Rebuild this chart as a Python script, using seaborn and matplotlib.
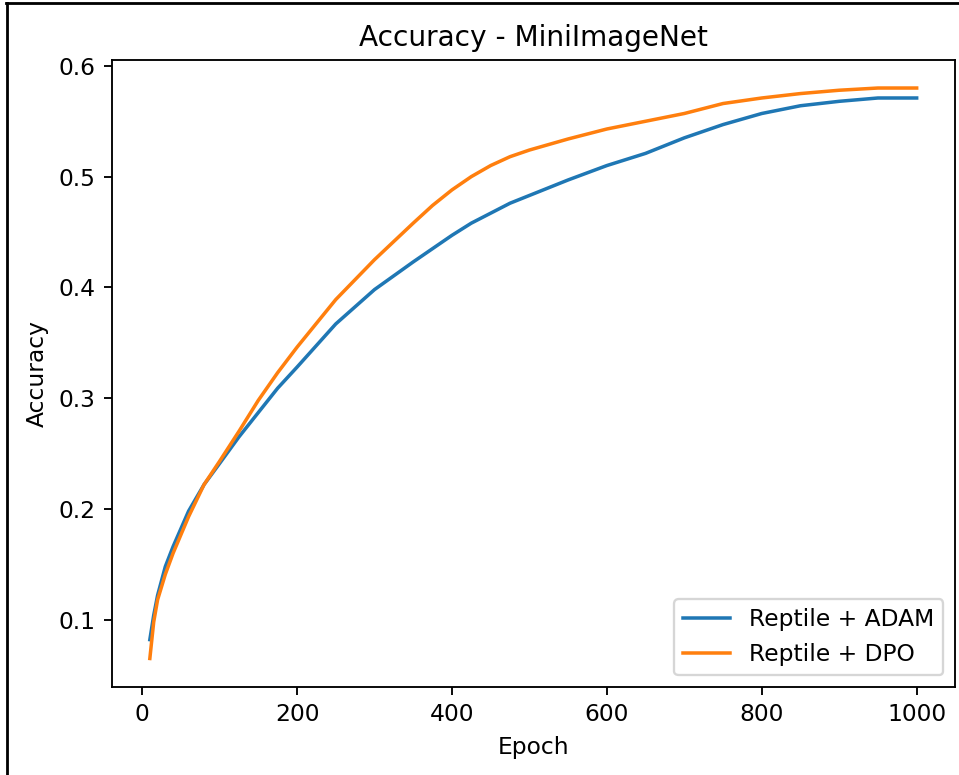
import matplotlib
matplotlib.use("Agg")
import matplotlib.pyplot as plt
from matplotlib.lines import Line2D
import seaborn as sns
import pandas as pd

epochs = [10, 15, 20, 30, 40, 60, 80, 100, 125, 150, 175, 200, 250, 300, 350, 375,
          400, 425, 450, 475, 500, 525, 550, 600, 650, 700, 750, 800, 850, 900, 950, 1000]

adam = [0.082, 0.104, 0.122, 0.148, 0.166, 0.198, 0.222, 0.241, 0.265, 0.287,
        0.309, 0.328, 0.367, 0.398, 0.423, 0.435, 0.447, 0.458, 0.467, 0.476,
        0.483, 0.490, 0.497, 0.510, 0.521, 0.535, 0.547, 0.557, 0.564, 0.568,
        0.571, 0.571]

dpo = [0.065, 0.098, 0.118, 0.141, 0.160, 0.193, 0.222, 0.243, 0.270, 0.298,
       0.323, 0.346, 0.389, 0.425, 0.458, 0.474, 0.488, 0.500, 0.510, 0.518,
       0.524, 0.529, 0.534, 0.543, 0.550, 0.557, 0.566, 0.571, 0.575, 0.578,
       0.580, 0.580]

series_names = ["Reptile + ADAM", "Reptile + DPO"]

df = pd.concat([
    pd.DataFrame({"Epoch": epochs, "Accuracy": adam, "Method": series_names[0]}),
    pd.DataFrame({"Epoch": epochs, "Accuracy": dpo, "Method": series_names[1]}),
])

fig = plt.figure(figsize=(959 / 168, 775 / 168), dpi=168)
ax = fig.add_axes([111.5 / 959, (775 - 687) / 775, (955 - 111.5) / 959, (687 - 59.5) / 775])

sns.lineplot(data=df, x="Epoch", y="Accuracy", hue="Method",
             palette=["#1f77b4", "#ff7f0e"], estimator=None, ax=ax, linewidth=1.5)

leg = ax.get_legend()
handles = leg.legend_handles
labels = [t.get_text() for t in leg.get_texts()]
ax.legend(handles, labels, loc="lower right")

ax.set_title("Accuracy - MiniImageNet")
ax.set_xlabel("Epoch")
ax.set_ylabel("Accuracy")
ax.set_xticks([0, 200, 400, 600, 800, 1000])
ax.set_yticks([0.1, 0.2, 0.3, 0.4, 0.5, 0.6])

# screenshot frame
fig.add_artist(Line2D([6.5 / 959, 6.5 / 959], [0, 1 - 3 / 775], transform=fig.transFigure,
                      color="black", linewidth=1.2))
fig.add_artist(Line2D([6 / 959, 1], [1 - 3 / 775, 1 - 3 / 775], transform=fig.transFigure,
                      color="black", linewidth=1.2))

fig.savefig("out.png", dpi=168)
